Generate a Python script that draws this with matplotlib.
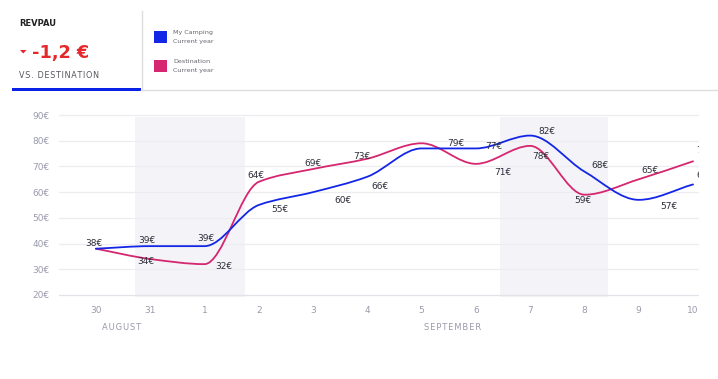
import numpy as np
import matplotlib.pyplot as plt
from matplotlib.path import Path
from matplotlib.patches import PathPatch, Rectangle, Polygon
from matplotlib.lines import Line2D

plt.rcParams['font.family'] = ['DejaVu Sans']

# data
days = ['30', '31', '1', '2', '3', '4', '5', '6', '7', '8', '9', '10']
my_camping = [38, 39, 39, 55, 60, 66, 77, 77, 82, 68, 57, 63]
destination = [38, 34, 32, 64, 69, 73, 79, 71, 78, 59, 65, 72]
y_ticks = [20, 30, 40, 50, 60, 70, 80, 90]
months = ['AUGUST', 'SEPTEMBER']
weekends = [(1, 2), (8, 9)]

BLUE = '#1326e6'
PINK = '#d6266f'
GREY = '#9a9aac'

W, H = 718, 379


def px(x, y):
    return x / W, 1 - y / H


def spaced(s):
    # poor man's letter spacing
    return '\u200a'.join(s)


def smooth_path(xs, ys):
    # monotone cubic (Fritsch-Carlson) drawn as bezier segments
    xs = np.asarray(xs, float)
    ys = np.asarray(ys, float)
    h = np.diff(xs)
    d = np.diff(ys) / h
    m = np.zeros_like(ys)
    m[0], m[-1] = d[0], d[-1]
    for i in range(1, len(ys) - 1):
        if d[i - 1] * d[i] <= 0:
            m[i] = 0
        else:
            m[i] = 3 * (h[i - 1] + h[i]) / ((2 * h[i] + h[i - 1]) / d[i - 1] + (h[i] + 2 * h[i - 1]) / d[i])
    verts = [(xs[0], ys[0])]
    codes = [Path.MOVETO]
    for i in range(len(xs) - 1):
        verts += [(xs[i] + h[i] / 3, ys[i] + m[i] * h[i] / 3),
                  (xs[i + 1] - h[i] / 3, ys[i + 1] - m[i + 1] * h[i] / 3),
                  (xs[i + 1], ys[i + 1])]
        codes += [Path.CURVE4] * 3
    return Path(verts, codes)


fig = plt.figure(figsize=(W / 100, H / 100), dpi=100)
ax = fig.add_axes([59 / W, 1 - 298 / H, 640 / W, 185 / H])

x = np.arange(len(days))
ax.set_xlim(-0.68, 11.11)
ax.set_ylim(18.83, 90.78)

# the shaded bands sit a bit off the day centres, as in the original
span_pad = [(-0.28, 0.75), (-0.56, 0.43)]
for (a, b), (pa, pb) in zip(weekends, span_pad):
    ax.axvspan(a + pa, b + pb, ymin=0.005, ymax=0.978, color='#f3f3f8', lw=0, zorder=0)

for t in y_ticks:
    ax.axhline(t, color='#e2e2e8' if t == 20 else '#ededf1', lw=0.9, zorder=1)

for vals, col in [(destination, PINK), (my_camping, BLUE)]:
    ax.add_patch(PathPatch(smooth_path(x, vals), fc='none', ec=col, lw=1.3, zorder=3,
                           capstyle='round', joinstyle='round'))

# value labels, offsets in pixels
blue_off = [(-2, 5), (-3, 6), (1, 8), (21, -5), (30, -8), (13, -10), None,
            (18, 2), (17, 4), (16, 6), (30, -7), (12, 9)]
pink_off = [None, (-4, -3), (19, -2), (-3, 6), (0, 6), (-5, 2), (34, 0),
            (27, -9), (11, -11), (-2, -6), (11, 9), (12, 11)]
for vals, offs in [(my_camping, blue_off), (destination, pink_off)]:
    for i, v in enumerate(vals):
        if offs[i] is None:
            continue
        ax.annotate(f'{v}€', (x[i], v), xytext=offs[i], textcoords='offset pixels',
                    ha='center', va='center', fontsize=6.5, color='#2e2e3a',
                    annotation_clip=False, clip_on=True, zorder=4)

ax.set_xticks(x)
ax.set_xticklabels(days)
ax.set_yticks(y_ticks)
ax.set_yticklabels([f'{t}€' for t in y_ticks])
ax.tick_params(length=0, labelsize=6.5, colors=GREY)
ax.tick_params(axis='y', pad=7)
ax.tick_params(axis='x', pad=6)
for s in ax.spines.values():
    s.set_visible(False)

fig.text(*px(122, 327), spaced(months[0]), ha='center', va='center', fontsize=6, color=GREY)
fig.text(*px(453, 327), spaced(months[1]), ha='center', va='center', fontsize=6, color=GREY)

# header
fig.text(*px(19, 24), 'REVPAU', fontsize=6, fontweight='bold', color='#222', va='center')
fig.text(*px(32, 53), '-1,2 €', fontsize=12.8, fontweight='bold', color='#e5282c', va='center')
fig.add_artist(Polygon([px(20, 50), px(26.5, 50), px(23.2, 53.5)], closed=True,
                       transform=fig.transFigure, fc='#e5282c', ec='none'))
fig.text(*px(19, 75), spaced('VS. DESTINATION'), fontsize=5.8, color='#555560', va='center')

fig.add_artist(Line2D([141 / W, 1], [1 - 89.5 / H] * 2, color='#dddde2', lw=1))
fig.add_artist(Line2D([141.5 / W] * 2, [1 - 11 / H, 1 - 89 / H], color='#dddde2', lw=1))
fig.add_artist(Rectangle(px(12, 90.5), 129 / W, 3 / H, transform=fig.transFigure,
                         fc='#0a22e6', ec='none'))

# legend
for (top, col, name) in [(31, BLUE, 'My Camping'), (60, PINK, 'Destination')]:
    fig.add_artist(Rectangle(px(154, top + 11.5), 12.5 / W, 11.5 / H,
                             transform=fig.transFigure, fc=col, ec='none'))
    fig.text(*px(173, top + 1.5), name, fontsize=4.6, color='#666670', va='center')
    fig.text(*px(173, top + 10.5), 'Current year', fontsize=4.6, color='#666670', va='center')

fig.savefig('out.png', dpi=100)
